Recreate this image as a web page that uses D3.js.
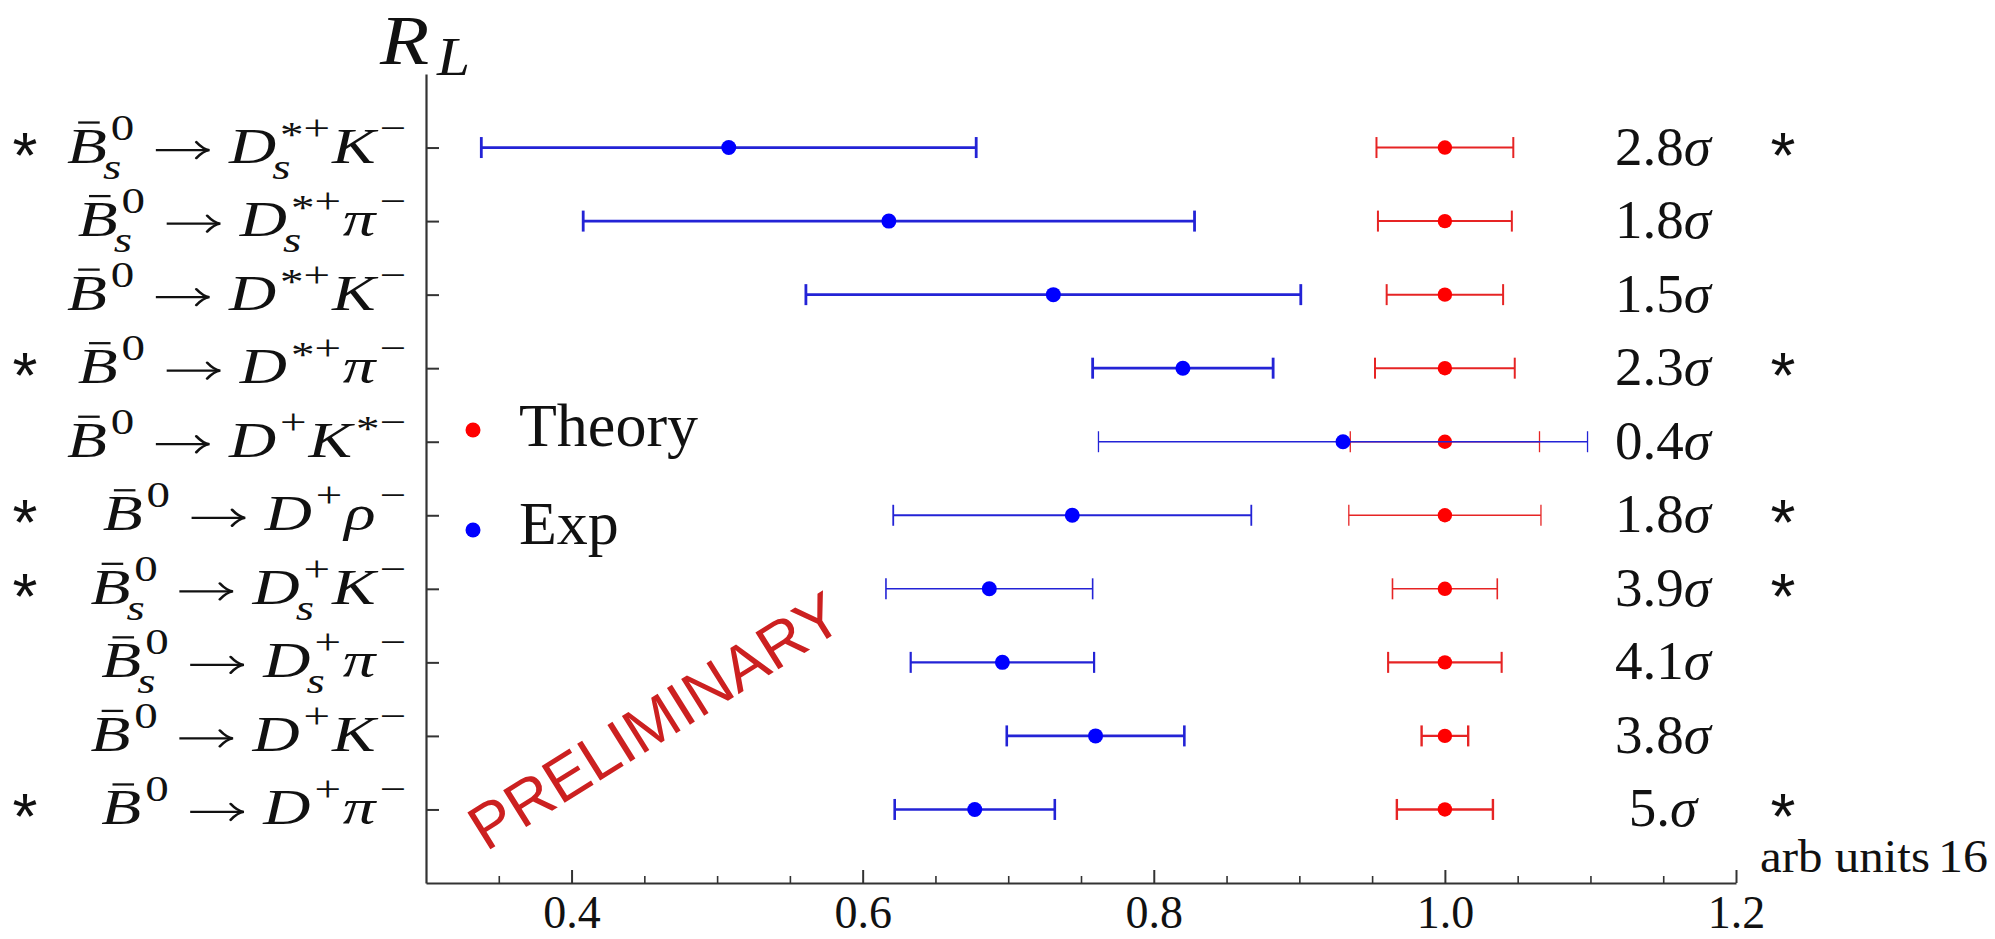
<!DOCTYPE html>
<html><head><meta charset="utf-8">
<script src="https://cdn.jsdelivr.net/npm/d3@7"></script>
<style>
body{margin:0;background:#fff}
svg{display:block}
.serif{font-family:"Liberation Serif","Times New Roman",serif}
.sans{font-family:"Liberation Sans",Arial,sans-serif}
</style>
</head><body>
<svg id="chart" width="1995" height="939"></svg>
<script>
// ---- data (top row first) ----
const categories = [
  "\\bar{B}_s^0 \\to D_s^{*+} K^-",
  "\\bar{B}_s^0 \\to D_s^{*+} \\pi^-",
  "\\bar{B}^0 \\to D^{*+} K^-",
  "\\bar{B}^0 \\to D^{*+} \\pi^-",
  "\\bar{B}^0 \\to D^+ K^{*-}",
  "\\bar{B}^0 \\to D^+ \\rho^-",
  "\\bar{B}_s^0 \\to D_s^+ K^-",
  "\\bar{B}_s^0 \\to D_s^+ \\pi^-",
  "\\bar{B}^0 \\to D^+ K^-",
  "\\bar{B}^0 \\to D^+ \\pi^-"
];
const expValue    = [0.508, 0.618, 0.731, 0.820, 0.930, 0.744, 0.687, 0.696, 0.760, 0.677];
const expError    = [0.170, 0.210, 0.170, 0.062, 0.168, 0.123, 0.071, 0.063, 0.061, 0.055];
const theoryValue = [1.0, 1.0, 1.0, 1.0, 1.0, 1.0, 1.0, 1.0, 1.0, 1.0];
const theoryError = [0.047, 0.046, 0.040, 0.048, 0.065, 0.066, 0.036, 0.039, 0.016, 0.033];
const tensionLabels = ["2.8", "1.8", "1.5", "2.3", "0.4", "1.8", "3.9", "4.1", "3.8", "5."];
const starred = [true, false, false, true, false, true, true, false, false, true];
const xTickValues = [0.4, 0.6, 0.8, 1.0, 1.2];
const xTickLabels = ["0.4", "0.6", "0.8", "1.0", "1.2"];
const legendLabels = ["Theory", "Exp"];
const yAxisLabel = ["R", "L"];
const xAxisLabel = "arb units";
const pageNumber = "16";
const watermark = "PRELIMINARY";

// ---- styles (not data) ----
const expStroke    = [2.8, 2.8, 2.8, 2.8, 1.3, 1.8, 1.6, 2.2, 2.6, 2.6];
const theoryStroke = [2.0, 2.0, 2.0, 2.0, 1.3, 1.3, 1.6, 2.1, 2.4, 2.4];
const blueLine = "#2323d6", blueDot = "#0000ff";
const redLine = "#e62424", redDot = "#ff0000";
const axisColor = "#333";

const svg = d3.select("#chart");
const x = d3.scaleLinear().domain([0.3, 1.2]).range([426, 1736]);
const y = d3.scaleLinear().domain([0, 11]).range([883, 74]);
const n = categories.length;
const rowY = i => y(n - i);

// ---- axes ----
const xAxis = d3.axisBottom(x).tickValues(xTickValues).tickSize(-13).tickSizeOuter(0)
  .tickPadding(12).tickFormat((d, i) => xTickLabels[i]);
const gx = svg.append("g").attr("transform", "translate(0,883)").call(xAxis);
gx.select(".domain").attr("stroke", axisColor).attr("stroke-width", 2.2);
gx.selectAll(".tick line").attr("stroke", axisColor).attr("stroke-width", 2);
gx.selectAll(".tick text").attr("class", "serif").attr("fill", "#111").style("font-size", "46px");

const minorVals = d3.range(0.35, 1.2, 0.05).filter(v => !xTickValues.some(t => Math.abs(t - v) < 1e-6));
const gxm = svg.append("g").attr("transform", "translate(0,883)")
  .call(d3.axisBottom(x).tickValues(minorVals).tickSize(-7).tickSizeOuter(0).tickFormat(""));
gxm.select(".domain").remove();
gxm.selectAll(".tick line").attr("stroke", axisColor).attr("stroke-width", 1.6);

const yAxis = d3.axisLeft(y).tickValues(d3.range(1, n + 1)).tickSize(-13).tickSizeOuter(0).tickFormat("");
const gy = svg.append("g").attr("transform", "translate(426,0)").call(yAxis);
gy.select(".domain").attr("stroke", axisColor).attr("stroke-width", 2.2);
gy.selectAll(".tick line").attr("stroke", axisColor).attr("stroke-width", 2);

// ---- axis labels ----
svg.append("text").attr("class", "serif").attr("transform", "translate(380,64) scale(1.15,1)")
  .style("font-size", "70px").style("font-style", "italic").attr("fill", "#111").text(yAxisLabel[0]);
svg.append("text").attr("class", "serif").attr("transform", "translate(437,75) scale(1.1,1)")
  .style("font-size", "54px").style("font-style", "italic").attr("fill", "#111").text(yAxisLabel[1]);
svg.append("text").attr("class", "serif").attr("x", 1760).attr("y", 872)
  .style("font-size", "46px").attr("fill", "#111")
  .attr("textLength", 170).attr("lengthAdjust", "spacingAndGlyphs").text(xAxisLabel);
svg.append("text").attr("class", "serif").attr("x", 1938).attr("y", 872)
  .style("font-size", "46px").attr("fill", "#111")
  .attr("textLength", 50).attr("lengthAdjust", "spacingAndGlyphs").text(pageNumber);

// ---- watermark ----
svg.append("text").attr("class", "sans").attr("transform", "translate(486,852) rotate(-32)")
  .style("font-size", "63px").attr("fill", "#cc2020").text(watermark);

// ---- error bars ----
function errorBar(g, v, e, yy, color, sw) {
  g.append("line").attr("x1", x(v - e)).attr("x2", x(v + e)).attr("y1", yy).attr("y2", yy)
    .attr("stroke", color).attr("stroke-width", sw);
  [v - e, v + e].forEach(c => g.append("line").attr("x1", x(c)).attr("x2", x(c))
    .attr("y1", yy - 10.5).attr("y2", yy + 10.5).attr("stroke", color).attr("stroke-width", sw));
}
const marks = svg.append("g");
categories.forEach((c, i) => {
  const yy = rowY(i);
  errorBar(marks, theoryValue[i], theoryError[i], yy, redLine, theoryStroke[i]);
  marks.append("circle").attr("cx", x(theoryValue[i])).attr("cy", yy).attr("r", 7.2).attr("fill", redDot);
});
categories.forEach((c, i) => {
  const yy = rowY(i);
  errorBar(marks, expValue[i], expError[i], yy, blueLine, expStroke[i]);
  marks.append("circle").attr("cx", x(expValue[i])).attr("cy", yy).attr("r", 7.5).attr("fill", blueDot);
});

// ---- sigma labels and stars ----
categories.forEach((c, i) => {
  const yy = rowY(i);
  const t = svg.append("text").attr("class", "serif").attr("x", 1663).attr("y", yy + 17)
    .attr("text-anchor", "middle").style("font-size", "55px").attr("fill", "#111");
  t.append("tspan").text(tensionLabels[i]);
  t.append("tspan").style("font-style", "italic").text("σ");
  if (starred[i]) {
    [25, 1783].forEach(sx => svg.append("text").attr("class", "sans").attr("x", sx).attr("y", yy + 30)
      .attr("text-anchor", "middle").style("font-size", "64px")
      .attr("fill", "#111").text("*"));
  }
});

// ---- legend ----
[[redDot, 430, 446], [blueDot, 530, 544]].forEach((d, i) => {
  svg.append("circle").attr("cx", 473).attr("cy", d[1]).attr("r", 7.5).attr("fill", d[0]);
  svg.append("text").attr("class", "serif").attr("x", 519).attr("y", d[2])
    .style("font-size", "62px").attr("fill", "#111").text(legendLabels[i]);
});

// ---- mini TeX label renderer ----
function parseTeX(s) {
  const atoms = []; let i = 0;
  const fix = str => str.replace(/-/g, "−");
  function group() {
    if (s[i] === "{") { const j = s.indexOf("}", i); const g = s.slice(i + 1, j); i = j + 1; return g; }
    return s[i++];
  }
  while (i < s.length) {
    const c = s[i];
    if (c === " ") { i++; continue; }
    if (s.startsWith("\\bar{", i)) { const j = s.indexOf("}", i); atoms.push({base: s.slice(i + 5, j), italic: true, bar: true}); i = j + 1; continue; }
    if (s.startsWith("\\to", i)) { atoms.push({op: true}); i += 3; continue; }
    if (s.startsWith("\\pi", i)) { atoms.push({base: "π", italic: true}); i += 3; continue; }
    if (s.startsWith("\\rho", i)) { atoms.push({base: "ρ", italic: true}); i += 4; continue; }
    if (c === "^") { i++; atoms[atoms.length - 1].sup = fix(group()); continue; }
    if (c === "_") { i++; atoms[atoms.length - 1].sub = fix(group()); continue; }
    atoms.push({base: c, italic: true}); i++;
  }
  return atoms;
}
function renderTeX(g, src, fs) {
  let xc = 0; const ss = 0.72 * fs;
  parseTeX(src).forEach(a => {
    if (a.op) {
      xc += 0.3 * fs;
      const L = 0.82 * fs, ay = -0.25 * fs, sw = 0.045 * fs;
      g.append("line").attr("x1", xc).attr("x2", xc + L - 0.02 * fs).attr("y1", ay).attr("y2", ay)
        .attr("stroke", "#111").attr("stroke-width", sw);
      g.append("path").attr("fill", "none").attr("stroke", "#111").attr("stroke-width", sw)
        .attr("stroke-linecap", "round")
        .attr("d", `M${xc + L - 0.2 * fs},${ay - 0.16 * fs} Q${xc + L - 0.1 * fs},${ay - 0.02 * fs} ${xc + L},${ay}` +
                   ` Q${xc + L - 0.1 * fs},${ay + 0.02 * fs} ${xc + L - 0.2 * fs},${ay + 0.16 * fs}`);
      xc += L + 0.3 * fs; return;
    }
    const t = g.append("text").attr("x", xc).attr("y", 0).style("font-size", fs + "px")
      .style("font-style", a.italic ? "italic" : "normal").text(a.base);
    const w = t.node().getComputedTextLength();
    if (a.bar) g.append("line").attr("x1", xc + 0.28 * w).attr("x2", xc + 0.82 * w)
      .attr("y1", -0.8 * fs).attr("y2", -0.8 * fs).attr("stroke", "#111").attr("stroke-width", fs * 0.045);
    let sw = 0;
    if (a.sup) {
      const st = g.append("text").attr("x", xc + w + 0.06 * fs).attr("y", -0.46 * fs)
        .style("font-size", ss + "px");
      let shifted = false;
      for (const ch of a.sup) {
        const ts = st.append("tspan").text(ch);
        if (ch === "*" && !shifted) { ts.attr("dy", 0.2 * ss); shifted = true; }
        else if (shifted) { ts.attr("dy", -0.2 * ss); shifted = false; }
      }
      sw = Math.max(sw, st.node().getComputedTextLength() + 0.06 * fs);
    }
    if (a.sub) {
      const st = g.append("text").attr("x", xc + w - 0.06 * fs).attr("y", 0.32 * fs)
        .style("font-size", ss + "px").style("font-style", "italic").text(a.sub);
      sw = Math.max(sw, st.node().getComputedTextLength() - 0.06 * fs);
    }
    xc += w + sw + 0.03 * fs;
  });
  return xc;
}
const labelFs = 50, labelRight = 408, labelTargetWidth = 341;
const labelGroups = categories.map((c, i) => {
  const g = svg.append("g").attr("class", "serif").attr("fill", "#111");
  const w = renderTeX(g, c, labelFs);
  return {g, w, i};
});
const maxW = d3.max(labelGroups, d => d.w);
const sxScale = labelTargetWidth / maxW;
labelGroups.forEach(d => {
  d.g.attr("transform", `translate(${labelRight - sxScale * d.w},${rowY(d.i) + 15}) scale(${sxScale},1)`);
});
</script>
</body></html>
